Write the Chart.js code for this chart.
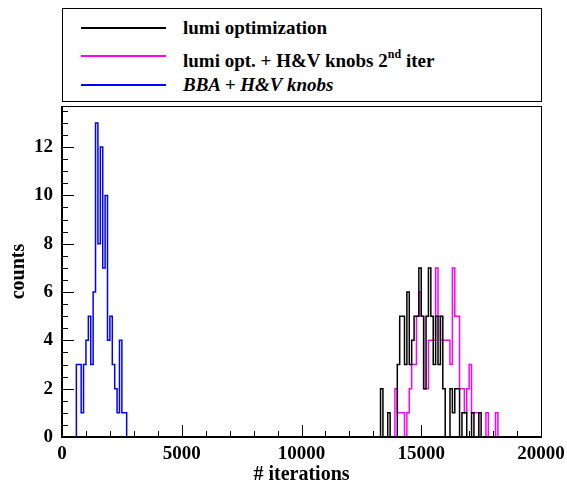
<!DOCTYPE html>
<html>
<head>
<meta charset="utf-8">
<script src="https://cdn.jsdelivr.net/npm/chart.js@4.4.1/dist/chart.umd.min.js"></script>
<style>
  html, body { margin: 0; padding: 0; background: #fff; }
  #wrap { position: relative; width: 567px; height: 485px; }
  #chart { position: absolute; left: 0; top: 0; }
  #legend {
    position: absolute; left: 62px; top: 8px; width: 478px; height: 92px;
    border: 1px solid #000; background: #fff;
    font-family: 'Liberation Serif', 'Times New Roman', serif; font-weight: bold; font-size: 19px; color: #000;
  }
  .row { position: absolute; left: 0; height: 24px; line-height: 24px; white-space: nowrap; }
  .row .swatch { position: absolute; left: 18px; top: 11px; width: 85px; height: 0; border-top: 2px solid #000; }
  .row .txt { position: absolute; left: 120px; top: 0; }
  .row sup { font-size: 12px; position: relative; top: -2px; }
</style>
</head>
<body>
<div id="wrap">
  <canvas id="chart" width="567" height="485"></canvas>
  <div id="legend">
    <div class="row" style="top:7px"><span class="swatch" style="border-color:#000000"></span><span class="txt">lumi optimization</span></div>
    <div class="row" style="top:35px"><span class="swatch" style="border-color:#ff00ff"></span><span class="txt">lumi opt. + H&amp;V knobs 2<sup>nd</sup> iter</span></div>
    <div class="row" style="top:64px"><span class="swatch" style="border-color:#0000ff"></span><span class="txt" style="font-style:italic">BBA + H&amp;V knobs</span></div>
  </div>
</div>
<script>
// histogram bins: width 100 iterations, each series starts at its first non-empty bin
const binWidth = 100;

// lumi optimization
const lumiStart = 13300;
const lumiCounts = [2, 0, 0, 1, 0, 0, 0, 3, 5, 5, 3, 6, 3, 4, 5, 5, 7, 5, 2, 5, 7, 5, 3, 5, 3, 5, 2, 0, 0, 2, 1, 2, 2, 0, 1, 1, 0, 0, 1, 0, 0, 1];

// lumi opt. + H&V knobs 2nd iter
const iterStart = 13900;
const iterCounts = [2, 1, 1, 1, 0, 1, 2, 3, 3, 5, 6, 5, 2, 2, 4, 4, 4, 7, 5, 4, 4, 4, 4, 3, 7, 5, 5, 2, 2, 1, 2, 3, 1, 1, 1, 0, 0, 0, 1, 0, 0, 0, 1];

// BBA + H&V knobs
const bbaStart = 600;
const bbaCounts = [3, 3, 1, 3, 4, 5, 3, 6, 13, 8, 12, 7, 10, 4, 5, 3, 2, 1, 4, 1, 1];

const xTicks = [0, 5000, 10000, 15000, 20000];
const yTicks = [0, 2, 4, 6, 8, 10, 12];
const xMax = 20000, yMax = 13.7;

function histPoints(start, counts) {
    const pts = [{ x: start, y: 0 }];
    counts.forEach(function(c, i) { pts.push({ x: start + i * binWidth, y: c }); });
    pts.push({ x: start + counts.length * binWidth, y: 0 });
    return pts;
}

const fontFam = "'Liberation Serif', 'Times New Roman', serif";

// ROOT style frame with ticks drawn inside
const frameTicks = {
    id: 'frameTicks',
    afterDatasetsDraw(chart) {
        const { ctx, chartArea: a, scales: { x, y } } = chart;
        ctx.save();
        ctx.strokeStyle = '#000';
        ctx.lineWidth = 1;
        ctx.beginPath();
        for (let v = 0; v <= xMax; v += 1000) {
            const px = Math.round(x.getPixelForValue(v)) + 0.5;
            const len = xTicks.includes(v) ? 12 : 6;
            ctx.moveTo(px, a.bottom); ctx.lineTo(px, a.bottom - len);
        }
        for (let v = 0; v <= yMax; v += 0.5) {
            const py = Math.round(y.getPixelForValue(v)) + 0.5;
            const len = yTicks.includes(v) ? 12 : 6;
            ctx.moveTo(a.left, py); ctx.lineTo(a.left + len, py);
        }
        ctx.stroke();
        ctx.strokeRect(a.left + 0.5, a.top + 0.5, a.right - a.left, a.bottom - a.top);
        ctx.lineWidth = 2;
        ctx.beginPath();
        ctx.moveTo(a.left, a.top); ctx.lineTo(a.left, a.bottom); ctx.lineTo(a.right + 1, a.bottom);
        ctx.stroke();
        ctx.restore();
    }
};

new Chart(document.getElementById('chart'), {
    type: 'line',
    data: {
        datasets: [
            { label: 'lumi optimization', data: histPoints(lumiStart, lumiCounts), borderColor: '#000000' },
            { label: 'lumi opt. + H&V knobs 2nd iter', data: histPoints(iterStart, iterCounts), borderColor: '#ff00ff' },
            { label: 'BBA + H&V knobs', data: histPoints(bbaStart, bbaCounts), borderColor: '#0000ff' }
        ].map(function(d) {
            return Object.assign(d, { stepped: 'before', borderWidth: 1.5, pointRadius: 0, fill: false, tension: 0 });
        })
    },
    options: {
        responsive: false,
        animation: false,
        devicePixelRatio: 1,
        layout: { padding: { top: 106, right: 26, left: 0, bottom: 0 } },
        plugins: { legend: { display: false }, tooltip: { enabled: false } },
        scales: {
            x: {
                type: 'linear', min: 0, max: xMax,
                afterFit: function(s) { s.height = 48; s.paddingLeft = 0; s.paddingRight = 0; },
                afterBuildTicks: function(s) { s.ticks = xTicks.map(function(v) { return { value: v }; }); },
                grid: { display: false, drawTicks: false },
                border: { display: false },
                ticks: {
                    color: '#000', padding: 6, maxRotation: 0, autoSkip: false,
                    font: { family: fontFam, size: 19, weight: 'bold' },
                    callback: function(v) { return String(v); }
                },
                title: { display: true, text: '# iterations', color: '#000', padding: 0, font: { family: fontFam, size: 20, weight: 'bold', lineHeight: 1.05 } }
            },
            y: {
                type: 'linear', min: 0, max: yMax,
                afterFit: function(s) { s.width = 62; s.paddingTop = 0; s.paddingBottom = 0; },
                afterBuildTicks: function(s) { s.ticks = yTicks.map(function(v) { return { value: v }; }); },
                grid: { display: false, drawTicks: false },
                border: { display: false },
                ticks: {
                    color: '#000', padding: 9,
                    font: { family: fontFam, size: 19, weight: 'bold' },
                    callback: function(v) { return String(v); }
                },
                title: { display: true, text: 'counts', color: '#000', padding: { top: 7, bottom: 0 }, font: { family: fontFam, size: 20, weight: 'bold' } }
            }
        }
    },
    plugins: [frameTicks]
});
</script>
</body>
</html>
